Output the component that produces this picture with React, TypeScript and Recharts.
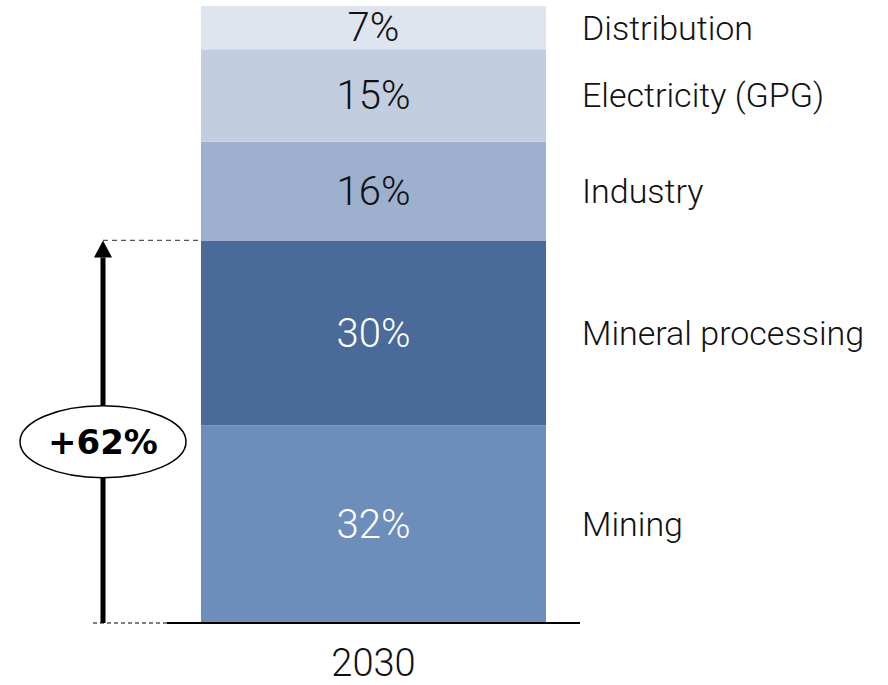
import React from 'react';
import { BarChart, Bar, XAxis, YAxis, LabelList } from 'recharts';

const categories = ['2030'];
const seriesNames = ['Mining', 'Mineral processing', 'Industry', 'Electricity (GPG)', 'Distribution'];
const seriesValues = [32, 30, 16, 15, 7];
const seriesColors = ['#6d8eba', '#4a6a9a', '#9db0cd', '#c3cde0', '#dfe5ef'];
const valueLabelColors = ['#ffffff', '#ffffff', '#111111', '#111111', '#111111'];
const growthLabel = '+62%';
const growthTopIndex = 1; // arrow spans Mining + Mineral processing

const data = categories.map((c) => {
  const row: Record<string, any> = { year: c };
  seriesValues.forEach((v, i) => {
    row['s' + i] = v;
  });
  return row;
});

const FONT = 'Roboto, "Liberation Sans", Arial, sans-serif';

const getBox = (p: any) => {
  const vb = p.viewBox && p.viewBox.width !== undefined ? p.viewBox : p;
  return { x: Number(vb.x), y: Number(vb.y), width: Number(vb.width), height: Number(vb.height) };
};

const makeValueLabel = (i: number) => (p: any) => {
  const b = getBox(p);
  return (
    <text
      x={b.x + b.width / 2}
      y={b.y + b.height / 2}
      textAnchor="middle"
      dominantBaseline="central"
      fontFamily={FONT}
      fontWeight={300}
      fontSize={40}
      fill={valueLabelColors[i]}
    >
      {seriesValues[i] + '%'}
    </text>
  );
};

const makeNameLabel = (i: number) => (p: any) => {
  const b = getBox(p);
  return (
    <text
      x={b.x + b.width + 36}
      y={b.y + b.height / 2}
      textAnchor="start"
      dominantBaseline="central"
      fontFamily={FONT}
      fontWeight={300}
      fontSize={34}
      fill="#111111"
    >
      {seriesNames[i]}
    </text>
  );
};

const GrowthArrow = (p: any) => {
  const b = getBox(p);
  const cum = seriesValues.slice(0, growthTopIndex + 1).reduce((a, v) => a + v, 0);
  const pxPerUnit = b.height / seriesValues[growthTopIndex];
  const topY = b.y;
  const baseY = b.y + cum * pxPerUnit;
  const ax = 103;
  const headH = 17;
  const midY = (topY + baseY) / 2 + 10;
  return (
    <g>
      <line x1={ax} y1={topY} x2={b.x} y2={topY} stroke="#555" strokeWidth={1.3} strokeDasharray="5 4" />
      <line x1={93} y1={baseY} x2={167} y2={baseY} stroke="#555" strokeWidth={1.3} strokeDasharray="4 3" />
      <line x1={ax} y1={baseY} x2={ax} y2={topY + headH} stroke="#000" strokeWidth={5} />
      <polygon points={`${ax - 9},${topY + headH} ${ax + 9},${topY + headH} ${ax},${topY}`} fill="#000" />
      <ellipse cx={ax} cy={midY} rx={83} ry={36} fill="#fff" stroke="#000" strokeWidth={1.5} />
      <text
        x={ax}
        y={midY}
        textAnchor="middle"
        dominantBaseline="central"
        fontFamily='"DejaVu Sans", sans-serif'
        fontWeight={700}
        fontSize={34}
        fill="#000"
      >
        {growthLabel}
      </text>
    </g>
  );
};

const YearTick = (p: any) => {
  const { x, y, payload } = p;
  return (
    <text x={x} y={y + 32} textAnchor="middle" dominantBaseline="central" fontFamily={FONT} fontWeight={300} fontSize={38} fill="#111111">
      {payload.value}
    </text>
  );
};

export default function App() {
  return (
    <div style={{ position: 'absolute', left: 0, top: 0, background: '#fff' }}>
      <BarChart
        width={888}
        height={685}
        data={data}
        margin={{ top: 6, right: 308, bottom: 0, left: 167 }}
        barSize={345}
      >
        <XAxis
          dataKey="year"
          height={62}
          axisLine={{ stroke: '#000', strokeWidth: 2 }}
          tickLine={false}
          tick={<YearTick />}
          interval={0}
        />
        <YAxis hide domain={[0, 100]} type="number" />
        {seriesValues.map((_, i) => (
          <Bar key={i} dataKey={'s' + i} stackId="a" fill={seriesColors[i]} isAnimationActive={false}>
            <LabelList dataKey={'s' + i} content={makeValueLabel(i)} />
            <LabelList dataKey={'s' + i} content={makeNameLabel(i)} />
            {i === growthTopIndex ? <LabelList dataKey={'s' + i} content={GrowthArrow} /> : null}
          </Bar>
        ))}
      </BarChart>
    </div>
  );
}
